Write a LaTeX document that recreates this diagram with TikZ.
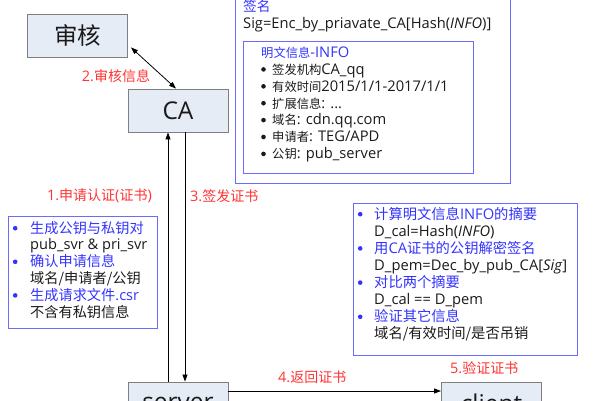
\documentclass[tikz,border=0pt]{standalone}
\usepackage{fontspec}
\setmainfont{Open Sans}
\newfontfamily\cjfont{Noto Sans CJK SC}
\usetikzlibrary{arrows.meta}
\definecolor{boxfill}{HTML}{E6ECF6}
\definecolor{boxline}{HTML}{7F7F7F}
\definecolor{bluebox}{HTML}{6B6BFF}
\definecolor{bluetext}{HTML}{3333FF}
\definecolor{redtext}{HTML}{FF3333}
\definecolor{txt}{HTML}{1A1A1A}
\newcommand\cjsize{14}
\newcommand\cj[1]{{\fontsize{\cjsize}{16.8}\cjfont #1}}
% bullet: #1 box width, #2 colour
\newcommand\bul[2]{\makebox[#1][l]{\tikz[baseline=0pt]\fill[#2] (0pt,0pt) (2.3pt,4.8pt) circle (2.3pt);}}
\begin{document}
\begin{tikzpicture}[x=1pt,y=-1pt,
  ent/.style={draw=boxline,fill=boxfill,line width=0.9pt,minimum width=100pt,minimum height=43pt,inner sep=0,font=\fontsize{24.5}{26}\selectfont\renewcommand\cjsize{23.5},text=txt},
  bbox/.style={draw=bluebox,line width=1pt,inner sep=0},
  lbl/.style={text=redtext,font=\fontsize{14.5}{16}\selectfont\renewcommand\cjsize{14},inner sep=0},
  body/.style={align=left,inner sep=0,text=txt,anchor=base west},
  arr/.style={line width=0.8pt,-{Triangle[length=7pt,width=5pt]}},
  darr/.style={line width=0.8pt,{Triangle[length=7pt,width=5pt]}-{Triangle[length=7pt,width=5pt]}},
]
\useasboundingbox (0,0) rectangle (600,400);
\clip (0,0) rectangle (600,400);

% entity boxes
\node[ent] (shenhe) at (77.5,35.5) {\cj{审核}};
\node[ent] (ca) at (178,110.5) {CA};
\node[ent] (server) at (178,403.5) {server};
\node[ent] (client) at (491.5,403.5) {client};

% blue boxes
\node[bbox,minimum width=275pt,minimum height=193pt] (sigbox) at (372.5,86.5) {};
\node[bbox,minimum width=230pt,minimum height=132pt] (infobox) at (358,107) {};
\node[bbox,minimum width=149pt,minimum height=112pt] (leftbox) at (82.5,272) {};
\node[bbox,minimum width=224pt,minimum height=152pt] (rightbox) at (465,279) {};

% texts in boxes (base west = baseline of the last line)
\node[body,font=\fontsize{14.7}{17.3}\selectfont\renewcommand\cjsize{13.7}] (sigtext) at (243,28.3) {%
\textcolor{bluetext}{\cj{签名}}\\
Sig=Enc\_by\_priavate\_CA[Hash(\textit{INFO})]};

\node[body,font=\fontsize{14.7}{16.9}\selectfont\renewcommand\cjsize{12.3}] (infotext) at (261,158.7) {%
\textcolor{bluetext}{\cj{明文信息}-INFO}\\
\bul{11pt}{txt}\cj{签发机构}CA\_qq\\
\bul{11pt}{txt}\cj{有效时间}2015/1/1-2017/1/1\\
\bul{11pt}{txt}\cj{扩展信息}: ...\\
\bul{11pt}{txt}\cj{域名}: cdn.qq.com\\
\bul{11pt}{txt}\cj{申请者}: TEG/APD\\
\bul{11pt}{txt}\cj{公钥}: pub\_server};

\node[body,font=\fontsize{14.6}{16.8}\selectfont\renewcommand\cjsize{14.2}] (lefttext) at (12.7,317) {%
\bul{17.3pt}{bluetext}\textcolor{bluetext}{\cj{生成公钥与私钥对}}\\
\hspace*{17.3pt}pub\_svr \& pri\_svr\\
\bul{17.3pt}{bluetext}\textcolor{bluetext}{\cj{确认申请信息}}\\
\hspace*{17.3pt}\cj{域名/申请者/公钥}\\
\bul{17.3pt}{bluetext}\textcolor{bluetext}{\cj{生成请求文件}.csr}\\
\hspace*{17.3pt}\cj{不含有私钥信息}};

\node[body,font=\fontsize{14.7}{17.1}\selectfont\renewcommand\cjsize{14.3}] (righttext) at (357.7,338.7) {%
\bul{16.3pt}{bluetext}\textcolor{bluetext}{\cj{计算明文信息}INFO\cj{的摘要}}\\
\hspace*{16.3pt}D\_cal=Hash(\textit{INFO})\\
\bul{16.3pt}{bluetext}\textcolor{bluetext}{\cj{用}CA\cj{证书的公钥解密签名}}\\
\hspace*{16.3pt}D\_pem=Dec\_by\_pub\_CA[\textit{Sig}]\\
\bul{16.3pt}{bluetext}\textcolor{bluetext}{\cj{对比两个摘要}}\\
\hspace*{16.3pt}D\_cal == D\_pem\\
\bul{16.3pt}{bluetext}\textcolor{bluetext}{\cj{验证其它信息}}\\
\hspace*{16.3pt}\cj{域名/有效时间/是否吊销}};

% connectors
\draw[darr] ([shift={(3,-10)}]shenhe.south east) -- ([xshift=-2pt]ca.north);
\draw[arr] ([xshift=-10pt]server.north) -- ([xshift=-10pt]ca.south);
\draw[arr] ([xshift=7pt]ca.south) -- ([xshift=7pt]server.north);
\draw[arr] ([yshift=12.5pt]server.east) -- ([yshift=12.5pt]client.west);

% labels
\node[lbl] (l2) at (116,76) {2.\cj{审核信息}};
\node[lbl,anchor=east] (l1) at (152,196) {1.\cj{申请认证}(\cj{证书})};
\node[lbl,anchor=west] (l3) at (190,196) {3.\cj{签发证书}};
\node[lbl,anchor=west] (l4) at (278,377) {4.\cj{返回证书}};
\node[lbl,anchor=west] (l5) at (450,368) {5.\cj{验证证书}};
\end{tikzpicture}
\end{document}
